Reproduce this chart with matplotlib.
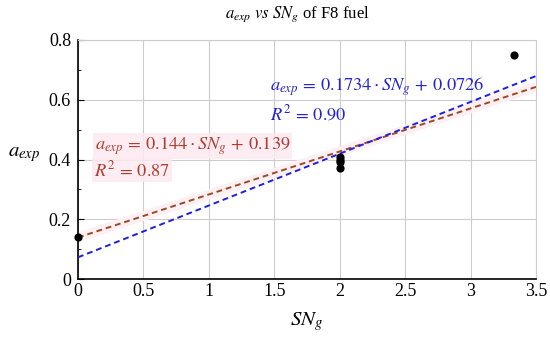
import matplotlib
matplotlib.use("Agg")
import matplotlib.pyplot as plt
import numpy as np
from matplotlib.ticker import MultipleLocator

plt.rcParams['mathtext.fontset'] = 'stix'
plt.rcParams['font.family'] = 'Liberation Serif'

sn_g = [0.0, 2.0, 2.0, 2.0, 2.0, 3.33]
a_exp = [0.14, 0.37, 0.39, 0.40, 0.41, 0.75]

fit1_slope, fit1_int = 0.144, 0.139
fit2_slope, fit2_int = 0.1734, 0.0726

xticks = [0, 0.5, 1, 1.5, 2, 2.5, 3, 3.5]
xticklabels = ['0', '0.5', '1', '1.5', '2', '2.5', '3', '3.5']
yticks = [0, 0.2, 0.4, 0.6, 0.8]
yticklabels = ['0', '0.2', '0.4', '0.6', '0.8']

fig = plt.figure(figsize=(5.5, 3.39), dpi=100)
ax = fig.add_axes([78 / 550, 1 - 279 / 339, 458 / 550, 239 / 339])

xs = np.array([0, 3.5])
ax.plot(xs, fit1_slope * xs + fit1_int, color='#fdf0f4', lw=7, solid_capstyle='butt', zorder=2)
ax.plot(xs, fit1_slope * xs + fit1_int, color='#9b4a22', ls=(0, (3, 2)), lw=1.4, zorder=3)
ax.plot(xs, fit2_slope * xs + fit2_int, color='#1f1fe0', ls=(0, (3, 2)), lw=1.4, zorder=3)
ax.scatter(sn_g, a_exp, color='black', s=24, zorder=4, clip_on=False)

ax.set_xlim(0, 3.5)
ax.set_ylim(0, 0.8)
ax.set_xticks(xticks)
ax.set_xticklabels(xticklabels)
ax.set_yticks(yticks)
ax.set_yticklabels(yticklabels)
ax.yaxis.set_minor_locator(MultipleLocator(0.1))
ax.tick_params(axis='both', which='both', direction='in', labelsize=13)
ax.tick_params(axis='x', length=0, pad=3)
ax.tick_params(axis='y', which='major', length=4, pad=5)
ax.tick_params(axis='y', which='minor', length=2.5)
ax.grid(True, color='#cccccc', lw=0.8)
ax.set_axisbelow(True)
for s in ['top', 'right']:
    ax.spines[s].set_color('#cccccc')
for s in ['left', 'bottom']:
    ax.spines[s].set_color('black')
    ax.spines[s].set_linewidth(1.2)

bbox = dict(boxstyle='square,pad=0.1', facecolor='#fdeaf0', edgecolor='none', alpha=0.85)
ax.text(0.13, 0.445, r'$a_{exp}\,=\,0.144 \cdot SN_g\,+\,0.139$', color='#b03a2e', fontsize=13.2,
        va='center', ha='left', bbox=bbox, zorder=5)
ax.text(0.12, 0.365, r'$R^2\,=\,0.87$', color='#b03a2e', fontsize=13.2,
        va='center', ha='left', bbox=bbox, zorder=5)
ax.text(1.467, 0.643, r'$a_{exp}\,=\,0.1734 \cdot SN_g\,+\,0.0726$', color='#2222d0', fontsize=13.2,
        va='center', ha='left', zorder=5)
ax.text(1.467, 0.552, r'$R^2\,=\,0.90$', color='#2222d0', fontsize=13.2,
        va='center', ha='left', zorder=5)

fig.text(297 / 550, 1 - 14 / 339, r'$a_{exp}$ $vs$ $SN_g$ of F8 fuel', ha='center', va='center', fontsize=12)
fig.text(24 / 550, 1 - 155 / 339, r'$a_{exp}$', ha='center', va='center', fontsize=15)
fig.text(307 / 550, 1 - 322 / 339, r'$SN_g$', ha='center', va='center', fontsize=15)

fig.savefig('out.png', dpi=100)
